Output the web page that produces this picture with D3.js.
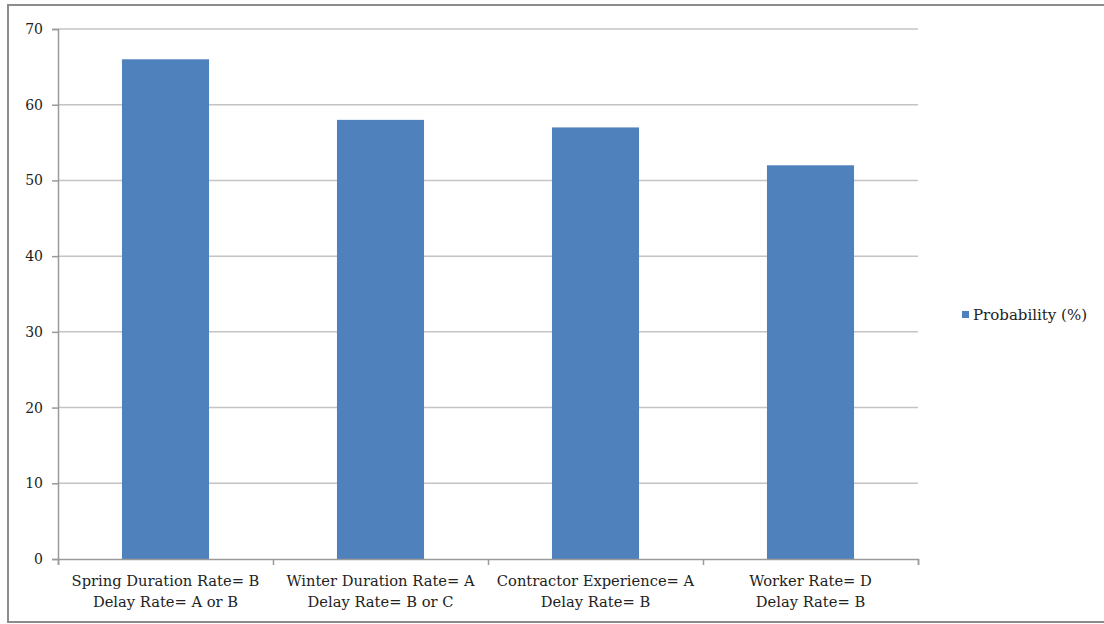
<!DOCTYPE html>
<html>
  <head>
    <meta charset="utf-8" />
    <title>Probability Bar Chart</title>
    <script src="https://d3js.org/d3.v7.min.js"></script>
    <style>
      body {
          margin: 0;
          background: #fff;
      }
      text {
          font-family: "DejaVu Serif", "Liberation Serif", serif;
          fill: #222;
      }
    </style>
  </head>
  <body>

    <svg id="barchart"></svg>

    <script>
        // data
        var categories = [
            ["Spring Duration Rate= B", "Delay Rate= A or B"],
            ["Winter Duration Rate= A", "Delay Rate= B or C"],
            ["Contractor Experience= A", "Delay Rate= B"],
            ["Worker Rate= D", "Delay Rate= B"]
        ];
        var probability = [66, 58, 57, 52];
        var yTicks = [0, 10, 20, 30, 40, 50, 60, 70];
        var seriesName = "Probability (%)";

        var width = 1104;
        var height = 624;
        var margin = {top: 29, right: 186, bottom: 65, left: 58};
        var chartWidth = width - margin.left - margin.right;
        var chartHeight = height - margin.top - margin.bottom;

        var svg = d3.select("#barchart")
          .attr("width", width)
          .attr("height", height);

        // outer frame
        svg.append("rect")
          .attr("x", 8)
          .attr("y", 5)
          .attr("width", width + 10)
          .attr("height", 617)
          .attr("fill", "none")
          .attr("stroke", "#8c8c8c")
          .attr("stroke-width", 2);

        var x = d3.scaleBand()
          .domain(d3.range(categories.length))
          .range([margin.left, margin.left + chartWidth])
          .paddingInner(0.595)
          .paddingOuter(0.2975);

        var y = d3.scaleLinear()
          .domain([0, 70])
          .range([margin.top + chartHeight, margin.top]);

        // gridlines
        svg.append("g")
          .selectAll("line")
          .data(yTicks.slice(1))
          .enter().append("line")
          .attr("x1", margin.left)
          .attr("x2", margin.left + chartWidth)
          .attr("y1", function(d) { return y(d); })
          .attr("y2", function(d) { return y(d); })
          .attr("stroke", "#c4c4c4")
          .attr("stroke-width", 1.5);

        // bars
        svg.append("g")
          .selectAll("rect")
          .data(probability)
          .enter().append("rect")
          .attr("x", function(d, i) { return x(i); })
          .attr("width", x.bandwidth())
          .attr("y", function(d) { return y(d); })
          .attr("height", function(d) { return y(0) - y(d); })
          .attr("fill", "#4f81bd");

        // y axis
        var yAxis = d3.axisLeft(y).tickValues(yTicks).tickSize(6).tickPadding(9);
        var gy = svg.append("g")
          .attr("transform", "translate(" + margin.left + ",0)")
          .call(yAxis);
        gy.select(".domain").attr("stroke", "#9a9a9a").attr("stroke-width", 1.5);
        gy.selectAll(".tick line").attr("stroke", "#9a9a9a").attr("stroke-width", 1.5);
        gy.selectAll(".tick text")
          .style("font-family", "'DejaVu Serif', serif")
          .style("font-size", "14px")
          .attr("fill", "#333");

        // x axis: category boundaries as ticks
        var bounds = d3.range(categories.length + 1);
        var xb = d3.scaleLinear()
          .domain([0, categories.length])
          .range([margin.left, margin.left + chartWidth]);
        var gx = svg.append("g")
          .attr("transform", "translate(0," + y(0) + ")")
          .call(d3.axisBottom(xb).tickValues(bounds).tickSize(6).tickFormat(""));
        gx.select(".domain").attr("stroke", "#9a9a9a").attr("stroke-width", 1.5);
        gx.selectAll(".tick line").attr("stroke", "#9a9a9a").attr("stroke-width", 1.5);

        // category labels
        var labels = svg.append("g")
          .selectAll("text")
          .data(categories)
          .enter().append("text")
          .attr("text-anchor", "middle")
          .attr("x", function(d, i) { return x(i) + x.bandwidth() / 2; })
          .attr("y", y(0) + 27)
          .style("font-size", "14.7px");
        labels.selectAll("tspan")
          .data(function(d) { return d; })
          .enter().append("tspan")
          .attr("x", function() { return d3.select(this.parentNode).attr("x"); })
          .attr("dy", function(d, i) { return i === 0 ? 0 : 21; })
          .text(function(d) { return d; });

        // legend
        var legend = svg.append("g")
          .attr("transform", "translate(962,315)");
        legend.append("rect")
          .attr("x", 0)
          .attr("y", -4)
          .attr("width", 7)
          .attr("height", 7)
          .attr("fill", "#4f81bd");
        legend.append("text")
          .attr("x", 11)
          .attr("y", 5)
          .style("font-size", "15px")
          .text(seriesName);
    </script>
  </body>
</html>
